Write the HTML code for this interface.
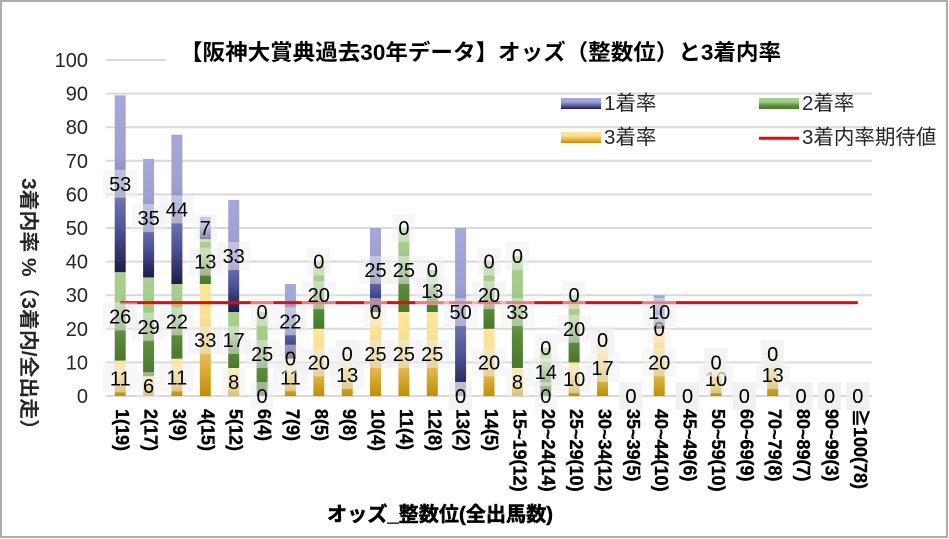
<!DOCTYPE html>
<html><head><meta charset="utf-8">
<style>
html,body{margin:0;padding:0;background:#fff;}
svg{display:block;}
text{font-family:"Liberation Sans","Noto Sans CJK JP",sans-serif;}
.tk{font-size:20px;fill:#262626;text-anchor:end;}
.lb rect{fill:rgba(240,240,240,0.5);}
.lb text{font-size:20px;fill:#000;text-anchor:middle;}
.xl{font-size:18px;font-weight:bold;fill:#000;stroke:#000;stroke-width:0.35px;}
.lg{font-size:20.5px;fill:#262626;}
</style></head>
<body>
<svg width="949" height="539" viewBox="0 0 949 539" xmlns="http://www.w3.org/2000/svg">
<defs>
<linearGradient id="gB" x1="0" y1="0" x2="0" y2="1">
<stop offset="0" stop-color="#a4a9d9"/><stop offset="0.35" stop-color="#9ca1d1"/><stop offset="0.75" stop-color="#4d5499"/><stop offset="1" stop-color="#1c1c45"/>
</linearGradient>
<linearGradient id="gG" x1="0" y1="0" x2="0" y2="1">
<stop offset="0" stop-color="#a9d18e"/><stop offset="0.35" stop-color="#a3cb88"/><stop offset="0.7" stop-color="#5a8b3c"/><stop offset="1" stop-color="#4a782c"/>
</linearGradient>
<linearGradient id="gY" x1="0" y1="0" x2="0" y2="1">
<stop offset="0" stop-color="#ffe699"/><stop offset="0.3" stop-color="#fbe192"/><stop offset="0.7" stop-color="#e0b54a"/><stop offset="1" stop-color="#bf8f00"/>
</linearGradient>
</defs>
<rect x="0" y="0" width="949" height="539" fill="#fff"/>
<rect x="1" y="1" width="946" height="536" fill="none" stroke="#b0adad" stroke-width="2"/>

<g stroke="#d9d9d9" stroke-width="2">
<line x1="106" y1="60" x2="166" y2="60"/>
<line x1="106" y1="93.6" x2="872" y2="93.6"/>
<line x1="106" y1="127.2" x2="872" y2="127.2"/>
<line x1="106" y1="160.8" x2="872" y2="160.8"/>
<line x1="106" y1="194.4" x2="872" y2="194.4"/>
<line x1="106" y1="228" x2="872" y2="228"/>
<line x1="106" y1="261.6" x2="872" y2="261.6"/>
<line x1="106" y1="295.2" x2="872" y2="295.2"/>
<line x1="106" y1="328.8" x2="872" y2="328.8"/>
<line x1="106" y1="362.4" x2="872" y2="362.4"/>
<line x1="106" y1="396" x2="872" y2="396"/>
</g>

<g class="tk">
<text x="88" y="67">100</text>
<text x="88" y="100.6">90</text>
<text x="88" y="134.2">80</text>
<text x="88" y="167.8">70</text>
<text x="88" y="201.4">60</text>
<text x="88" y="235">50</text>
<text x="88" y="268.6">40</text>
<text x="88" y="302.2">30</text>
<text x="88" y="335.8">20</text>
<text x="88" y="369.4">10</text>
<text x="88" y="403">0</text>
</g>

<g>
<rect x="114.7" y="360.62" width="11" height="35.38" fill="url(#gY)"/>
<rect x="114.7" y="272.18" width="11" height="88.44" fill="url(#gG)"/>
<rect x="114.7" y="95.35" width="11" height="176.83" fill="url(#gB)"/>

<rect x="143.1" y="376.24" width="11" height="19.76" fill="url(#gY)"/>
<rect x="143.1" y="277.43" width="11" height="98.81" fill="url(#gG)"/>
<rect x="143.1" y="158.85" width="11" height="118.58" fill="url(#gB)"/>

<rect x="171.4" y="358.67" width="11" height="37.33" fill="url(#gY)"/>
<rect x="171.4" y="284" width="11" height="74.67" fill="url(#gG)"/>
<rect x="171.4" y="134.7" width="11" height="149.3" fill="url(#gB)"/>

<rect x="199.8" y="284" width="11" height="112" fill="url(#gY)"/>
<rect x="199.8" y="239.2" width="11" height="44.8" fill="url(#gG)"/>
<rect x="199.8" y="216.8" width="11" height="22.4" fill="url(#gB)"/>

<rect x="228.2" y="368" width="11" height="28" fill="url(#gY)"/>
<rect x="228.2" y="312" width="11" height="56" fill="url(#gG)"/>
<rect x="228.2" y="200" width="11" height="112" fill="url(#gB)"/>

<rect x="256.6" y="312" width="11" height="84" fill="url(#gG)"/>

<rect x="284.9" y="358.67" width="11" height="37.33" fill="url(#gY)"/>
<rect x="284.9" y="284" width="11" height="74.67" fill="url(#gB)"/>

<rect x="313.3" y="328.8" width="11" height="67.2" fill="url(#gY)"/>
<rect x="313.3" y="261.6" width="11" height="67.2" fill="url(#gG)"/>

<rect x="341.7" y="354" width="11" height="42" fill="url(#gY)"/>

<rect x="370" y="312" width="11" height="84" fill="url(#gY)"/>
<rect x="370" y="228" width="11" height="84" fill="url(#gB)"/>

<rect x="398.4" y="312" width="11" height="84" fill="url(#gY)"/>
<rect x="398.4" y="228" width="11" height="84" fill="url(#gG)"/>

<rect x="426.8" y="312" width="11" height="84" fill="url(#gY)"/>
<rect x="426.8" y="270" width="11" height="42" fill="url(#gG)"/>

<rect x="455.1" y="228" width="11" height="168" fill="url(#gB)"/>

<rect x="483.5" y="328.8" width="11" height="67.2" fill="url(#gY)"/>
<rect x="483.5" y="261.6" width="11" height="67.2" fill="url(#gG)"/>

<rect x="511.9" y="368" width="11" height="28" fill="url(#gY)"/>
<rect x="511.9" y="256" width="11" height="112" fill="url(#gG)"/>

<rect x="540.3" y="348" width="11" height="48" fill="url(#gG)"/>

<rect x="568.6" y="362.4" width="11" height="33.6" fill="url(#gY)"/>
<rect x="568.6" y="295.2" width="11" height="67.2" fill="url(#gG)"/>

<rect x="597" y="340" width="11" height="56" fill="url(#gY)"/>

<rect x="653.7" y="328.8" width="11" height="67.2" fill="url(#gY)"/>
<rect x="653.7" y="295.2" width="11" height="33.6" fill="url(#gB)"/>

<rect x="710.5" y="362.4" width="11" height="33.6" fill="url(#gY)"/>

<rect x="767.2" y="354" width="11" height="42" fill="url(#gY)"/>
</g>

<line x1="120.2" y1="302.6" x2="857.8" y2="302.6" stroke="#ff0000" stroke-width="3"/>

<g class="lb">
<rect x="103.2" y="364.3" width="34" height="28"/><text x="120.2" y="385.3">11</text>
<rect x="103.2" y="302.4" width="34" height="28"/><text x="120.2" y="323.4">26</text>
<rect x="103.2" y="169.8" width="34" height="28"/><text x="120.2" y="190.8">53</text>

<rect x="137.1" y="372.1" width="23" height="28"/><text x="148.6" y="393.1">6</text>
<rect x="131.6" y="312.8" width="34" height="28"/><text x="148.6" y="333.8">29</text>
<rect x="131.6" y="204.1" width="34" height="28"/><text x="148.6" y="225.1">35</text>

<rect x="159.9" y="363.3" width="34" height="28"/><text x="176.9" y="384.3">11</text>
<rect x="159.9" y="307.3" width="34" height="28"/><text x="176.9" y="328.3">22</text>
<rect x="159.9" y="195.4" width="34" height="28"/><text x="176.9" y="216.4">44</text>

<rect x="188.3" y="326" width="34" height="28"/><text x="205.3" y="347">33</text>
<rect x="188.3" y="247.6" width="34" height="28"/><text x="205.3" y="268.6">13</text>
<rect x="193.8" y="214" width="23" height="28"/><text x="205.3" y="235">7</text>

<rect x="222.2" y="368" width="23" height="28"/><text x="233.7" y="389">8</text>
<rect x="216.7" y="326" width="34" height="28"/><text x="233.7" y="347">17</text>
<rect x="216.7" y="242" width="34" height="28"/><text x="233.7" y="263">33</text>

<rect x="250.6" y="382" width="23" height="28"/><text x="262.1" y="403">0</text>
<rect x="245.1" y="340" width="34" height="28"/><text x="262.1" y="361">25</text>
<rect x="250.6" y="298" width="23" height="28"/><text x="262.1" y="319">0</text>

<rect x="273.4" y="363.3" width="34" height="28"/><text x="290.4" y="384.3">11</text>
<rect x="278.9" y="344.7" width="23" height="28"/><text x="290.4" y="365.7">0</text>
<rect x="273.4" y="307.3" width="34" height="28"/><text x="290.4" y="328.3">22</text>

<rect x="301.8" y="348.4" width="34" height="28"/><text x="318.8" y="369.4">20</text>
<rect x="301.8" y="281.2" width="34" height="28"/><text x="318.8" y="302.2">20</text>
<rect x="307.3" y="247.6" width="23" height="28"/><text x="318.8" y="268.6">0</text>

<rect x="330.2" y="361" width="34" height="28"/><text x="347.2" y="382">13</text>
<rect x="335.7" y="340" width="23" height="28"/><text x="347.2" y="361">0</text>
<rect x="335.7" y="340" width="23" height="28"/><text x="347.2" y="361">0</text>

<rect x="358.5" y="340" width="34" height="28"/><text x="375.5" y="361">25</text>
<rect x="364" y="298" width="23" height="28"/><text x="375.5" y="319">0</text>
<rect x="358.5" y="256" width="34" height="28"/><text x="375.5" y="277">25</text>

<rect x="386.9" y="340" width="34" height="28"/><text x="403.9" y="361">25</text>
<rect x="386.9" y="256" width="34" height="28"/><text x="403.9" y="277">25</text>
<rect x="392.4" y="214" width="23" height="28"/><text x="403.9" y="235">0</text>

<rect x="415.3" y="340" width="34" height="28"/><text x="432.3" y="361">25</text>
<rect x="415.3" y="277" width="34" height="28"/><text x="432.3" y="298">13</text>
<rect x="420.8" y="256" width="23" height="28"/><text x="432.3" y="277">0</text>

<rect x="449.1" y="382" width="23" height="28"/><text x="460.6" y="403">0</text>
<rect x="449.1" y="382" width="23" height="28"/><text x="460.6" y="403">0</text>
<rect x="443.6" y="298" width="34" height="28"/><text x="460.6" y="319">50</text>

<rect x="472" y="348.4" width="34" height="28"/><text x="489" y="369.4">20</text>
<rect x="472" y="281.2" width="34" height="28"/><text x="489" y="302.2">20</text>
<rect x="477.5" y="247.6" width="23" height="28"/><text x="489" y="268.6">0</text>

<rect x="505.9" y="368" width="23" height="28"/><text x="517.4" y="389">8</text>
<rect x="500.4" y="298" width="34" height="28"/><text x="517.4" y="319">33</text>
<rect x="505.9" y="242" width="23" height="28"/><text x="517.4" y="263">0</text>

<rect x="534.3" y="382" width="23" height="28"/><text x="545.8" y="403">0</text>
<rect x="528.8" y="358" width="34" height="28"/><text x="545.8" y="379">14</text>
<rect x="534.3" y="334" width="23" height="28"/><text x="545.8" y="355">0</text>

<rect x="557.1" y="365.2" width="34" height="28"/><text x="574.1" y="386.2">10</text>
<rect x="557.1" y="314.8" width="34" height="28"/><text x="574.1" y="335.8">20</text>
<rect x="562.6" y="281.2" width="23" height="28"/><text x="574.1" y="302.2">0</text>

<rect x="585.5" y="354" width="34" height="28"/><text x="602.5" y="375">17</text>
<rect x="591" y="326" width="23" height="28"/><text x="602.5" y="347">0</text>
<rect x="591" y="326" width="23" height="28"/><text x="602.5" y="347">0</text>

<rect x="619.4" y="382" width="23" height="28"/><text x="630.9" y="403">0</text>
<rect x="619.4" y="382" width="23" height="28"/><text x="630.9" y="403">0</text>
<rect x="619.4" y="382" width="23" height="28"/><text x="630.9" y="403">0</text>

<rect x="642.2" y="348.4" width="34" height="28"/><text x="659.2" y="369.4">20</text>
<rect x="647.7" y="314.8" width="23" height="28"/><text x="659.2" y="335.8">0</text>
<rect x="642.2" y="298" width="34" height="28"/><text x="659.2" y="319">10</text>

<rect x="676.1" y="382" width="23" height="28"/><text x="687.6" y="403">0</text>
<rect x="676.1" y="382" width="23" height="28"/><text x="687.6" y="403">0</text>
<rect x="676.1" y="382" width="23" height="28"/><text x="687.6" y="403">0</text>

<rect x="699" y="365.2" width="34" height="28"/><text x="716" y="386.2">10</text>
<rect x="704.5" y="348.4" width="23" height="28"/><text x="716" y="369.4">0</text>
<rect x="704.5" y="348.4" width="23" height="28"/><text x="716" y="369.4">0</text>

<rect x="732.8" y="382" width="23" height="28"/><text x="744.3" y="403">0</text>
<rect x="732.8" y="382" width="23" height="28"/><text x="744.3" y="403">0</text>
<rect x="732.8" y="382" width="23" height="28"/><text x="744.3" y="403">0</text>

<rect x="755.7" y="361" width="34" height="28"/><text x="772.7" y="382">13</text>
<rect x="761.2" y="340" width="23" height="28"/><text x="772.7" y="361">0</text>
<rect x="761.2" y="340" width="23" height="28"/><text x="772.7" y="361">0</text>

<rect x="789.6" y="382" width="23" height="28"/><text x="801.1" y="403">0</text>
<rect x="789.6" y="382" width="23" height="28"/><text x="801.1" y="403">0</text>
<rect x="789.6" y="382" width="23" height="28"/><text x="801.1" y="403">0</text>

<rect x="818" y="382" width="23" height="28"/><text x="829.5" y="403">0</text>
<rect x="818" y="382" width="23" height="28"/><text x="829.5" y="403">0</text>
<rect x="818" y="382" width="23" height="28"/><text x="829.5" y="403">0</text>

<rect x="846.3" y="382" width="23" height="28"/><text x="857.8" y="403">0</text>
<rect x="846.3" y="382" width="23" height="28"/><text x="857.8" y="403">0</text>
<rect x="846.3" y="382" width="23" height="28"/><text x="857.8" y="403">0</text>
</g>

<g class="xl">
<text transform="translate(116.2,409) rotate(90)">1(19)</text>
<text transform="translate(144.6,409) rotate(90)">2(17)</text>
<text transform="translate(172.9,409) rotate(90)">3(9)</text>
<text transform="translate(201.3,409) rotate(90)">4(15)</text>
<text transform="translate(229.7,409) rotate(90)">5(12)</text>
<text transform="translate(258.1,409) rotate(90)">6(4)</text>
<text transform="translate(286.4,409) rotate(90)">7(9)</text>
<text transform="translate(314.8,409) rotate(90)">8(5)</text>
<text transform="translate(343.2,409) rotate(90)">9(8)</text>
<text transform="translate(371.5,409) rotate(90)">10(4)</text>
<text transform="translate(399.9,409) rotate(90)">11(4)</text>
<text transform="translate(428.3,409) rotate(90)">12(8)</text>
<text transform="translate(456.6,409) rotate(90)">13(2)</text>
<text transform="translate(485,409) rotate(90)">14(5)</text>
<text transform="translate(513.4,409) rotate(90)">15~19(12)</text>
<text transform="translate(541.8,409) rotate(90)">20~24(14)</text>
<text transform="translate(570.1,409) rotate(90)">25~29(10)</text>
<text transform="translate(598.5,409) rotate(90)">30~34(12)</text>
<text transform="translate(626.9,409) rotate(90)">35~39(5)</text>
<text transform="translate(655.2,409) rotate(90)">40~44(10)</text>
<text transform="translate(683.6,409) rotate(90)">45~49(6)</text>
<text transform="translate(712,409) rotate(90)">50~59(10)</text>
<text transform="translate(740.3,409) rotate(90)">60~69(9)</text>
<text transform="translate(768.7,409) rotate(90)">70~79(8)</text>
<text transform="translate(797.1,409) rotate(90)">80~89(7)</text>
<text transform="translate(825.5,409) rotate(90)">90~99(3)</text>
<text transform="translate(853.8,409) rotate(90)">≧100(78)</text>
</g>

<text transform="translate(22,178) rotate(90)" style="font-size:20px;font-weight:bold;fill:#262626" textLength="262" lengthAdjust="spacingAndGlyphs">3着内率 %（3着内/全出走）</text>
<text x="327" y="521" style="font-size:20px;font-weight:bold;fill:#000;stroke:#000;stroke-width:0.5px" textLength="226" lengthAdjust="spacingAndGlyphs">オッズ_整数位(全出馬数)</text>

<rect x="167" y="40" width="713" height="36" fill="#fff"/>
<text x="180" y="60" style="font-size:22px;font-weight:bold;fill:#000" textLength="601" lengthAdjust="spacingAndGlyphs">【阪神大賞典過去30年データ】オッズ（整数位）と3着内率</text>

<rect x="561" y="98" width="40" height="11" fill="url(#gB)"/>
<text class="lg" x="604" y="110">1着率</text>
<rect x="759" y="98" width="40" height="11" fill="url(#gG)"/>
<text class="lg" x="802" y="110">2着率</text>
<rect x="561" y="132" width="40" height="11" fill="url(#gY)"/>
<text class="lg" x="604" y="144">3着率</text>
<line x1="759" y1="138.3" x2="799" y2="138.3" stroke="#ff0000" stroke-width="3"/>
<text class="lg" x="802" y="144">3着内率期待値</text>
</svg>
</body></html>
